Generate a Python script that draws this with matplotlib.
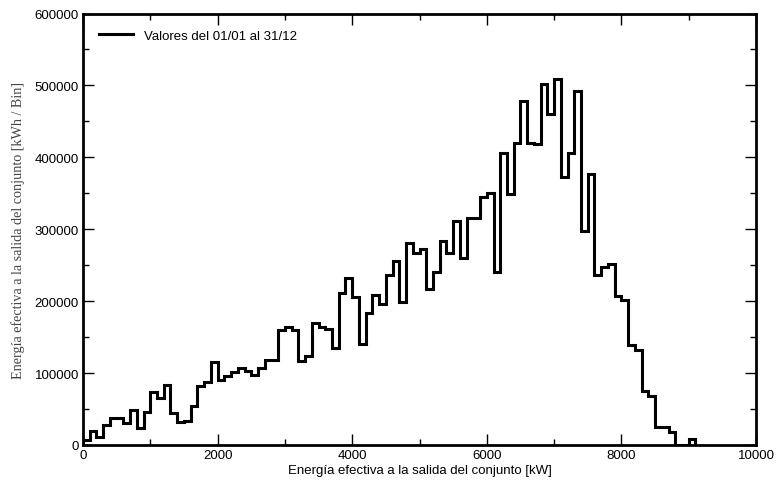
import numpy as np
import matplotlib.pyplot as plt
from matplotlib.ticker import MultipleLocator
from matplotlib.lines import Line2D

# energia por bin de 100 kW (kWh / bin)
bin_width = 100
energia = [
    7000, 19500, 11000, 28500, 38000, 38000, 30000, 48000, 23000, 46500,
    73500, 65000, 84000, 44000, 32500, 33000, 54000, 82000, 87000, 116000,
    90000, 96000, 101000, 107500, 103000, 97000, 106500, 117500, 117500, 160500,
    164000, 160500, 117000, 124000, 169000, 164000, 161000, 135500, 211500, 232500,
    205500, 140000, 184000, 209000, 196000, 237000, 256000, 199500, 281500, 267000,
    272000, 217000, 241000, 284000, 267500, 311000, 259500, 315500, 315500, 345000,
    351000, 240000, 406500, 349500, 419500, 478500, 420500, 419000, 501500, 460000,
    508500, 372500, 406500, 492000, 297500, 377500, 236500, 248000, 251500, 206500,
    202000, 139000, 132000, 75500, 67500, 25500, 25500, 17500, 0, 0,
    8300,
]
edges = np.arange(len(energia) + 1) * bin_width

leyenda = 'Valores del 01/01 al 31/12'
xlabel = 'Energía efectiva a la salida del conjunto [kW]'
ylabel = 'Energía efectiva a la salida del conjunto [kWh / Bin]'

plt.rcParams['font.family'] = ['Liberation Sans', 'DejaVu Sans']

fig = plt.figure(figsize=(7.76, 4.89), dpi=100)
ax = fig.add_axes([83 / 776, 1 - 446 / 489, (756 - 83) / 776, (446 - 14.5) / 489])

ax.stairs(energia, edges, baseline=0, color='black', lw=2.2)

ax.set_xlim(0, 10000)
ax.set_ylim(0, 600000)
ax.xaxis.set_major_locator(MultipleLocator(2000))
ax.xaxis.set_minor_locator(MultipleLocator(1000))
ax.yaxis.set_major_locator(MultipleLocator(100000))
ax.yaxis.set_minor_locator(MultipleLocator(50000))
ax.ticklabel_format(style='plain', useOffset=False)

ax.tick_params(which='both', direction='in', top=True, right=True, labelsize=9.5, pad=3)
ax.tick_params(which='major', length=8, width=1)
ax.tick_params(which='minor', length=4, width=1)
for s in ax.spines.values():
    s.set_linewidth(2)

ax.set_xlabel(xlabel, fontsize=9.5, labelpad=2)
ax.set_ylabel(ylabel, fontsize=10.2, family='Liberation Serif', color='#444444', labelpad=7)

h = Line2D([], [], color='black', lw=2.2)
ax.legend([h], [leyenda], loc='upper left', frameon=False, fontsize=9.5,
          handlelength=2.6, borderaxespad=0.8)

fig.savefig('out.png', dpi=100)
